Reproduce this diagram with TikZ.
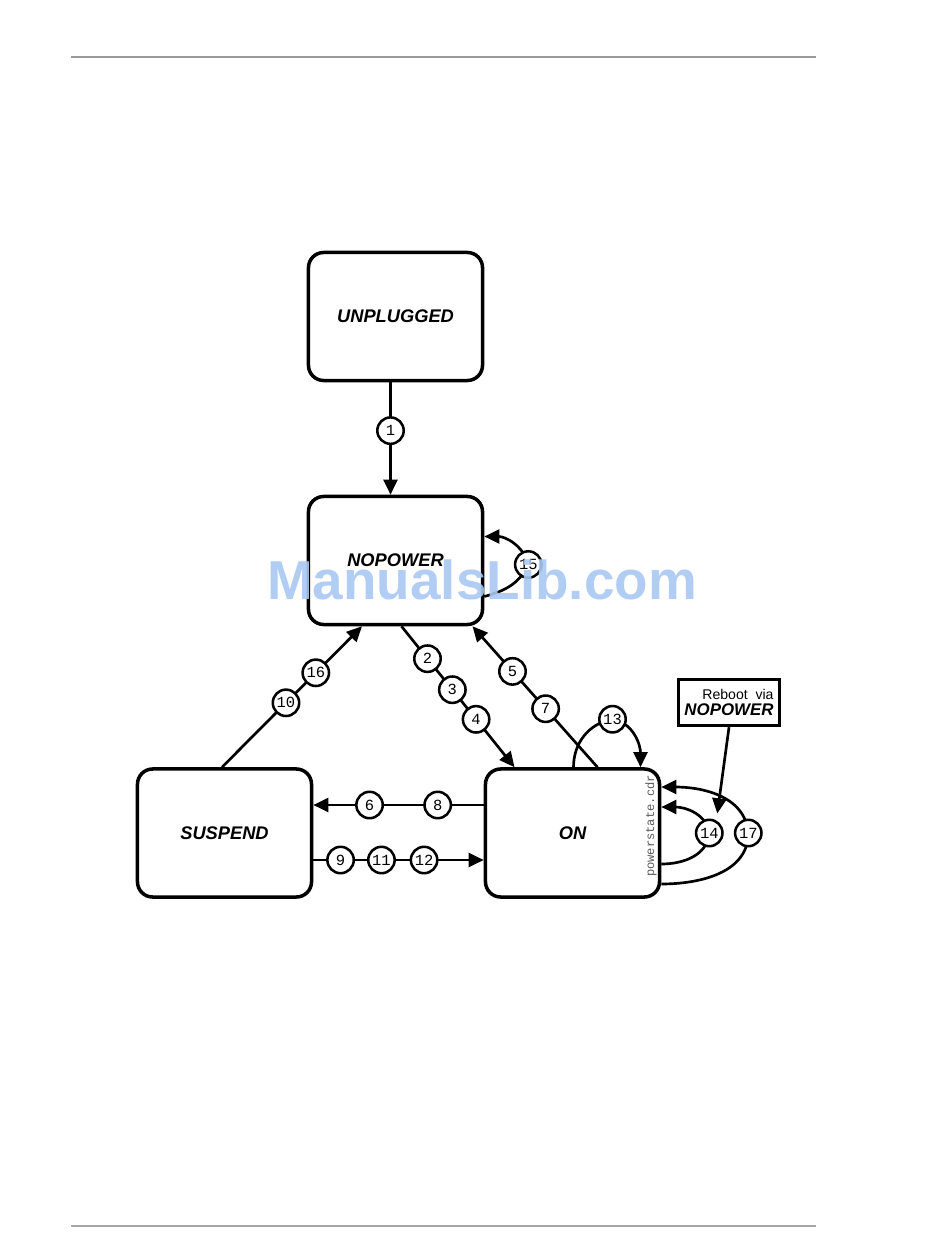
\documentclass[tikz,border=0pt]{standalone}
\usepackage{fontspec}
\setmainfont{Liberation Sans}
\setmonofont{Liberation Mono}
\usepackage{xcolor}
\usepackage{tikz}
\usetikzlibrary{positioning,arrows.meta,calc}
\definecolor{wmark}{RGB}{168,200,242}

\begin{document}
\begin{tikzpicture}[
  x=0.025cm,y=-0.025cm,
  state/.style={draw,line width=2.5pt,rounded corners=0.38cm,minimum width=4.35cm,minimum height=3.2cm,
                font=\fontsize{13}{15}\selectfont\bfseries\itshape},
  num/.style={draw,circle,line width=1.8pt,fill=white,minimum size=0.66cm,inner sep=0pt,
              font=\ttfamily\fontsize{11}{12}\selectfont},
  conn/.style={line width=1.9pt},
  >={Triangle[length=0.38cm,width=0.35cm]}
]
  \useasboundingbox (0,0) rectangle (950,1260);
  \draw[gray!80,line width=0.8pt] (71,57) -- (816,57);
  \draw[gray!70,line width=1.1pt] (71,1226) -- (816,1226);

  \node[state] (unp) at (395.5,316.5) {UNPLUGGED};
  \node[state] (nop) at (395.5,560.5) {NOPOWER};
  \node[state] (sus) at (224.5,833) {SUSPEND};
  \node[state] (on)  at (572.5,833) {ON};
  \node[draw,line width=2.4pt,minimum width=2.53cm,minimum height=1.15cm,align=right,inner sep=2pt] (reboot) at (729,702.5)
    {\fontsize{10}{12}\selectfont Reboot\ \ via\\[-1pt]\fontsize{12}{14}\selectfont\bfseries\itshape NOPOWER};
  \node[rotate=90,text=gray!70!black,font=\ttfamily\fontsize{8.6}{10}\selectfont] (cdr) at (651,826) {powerstate.cdr};

  \draw[conn,->] ($(unp.south)+(-5,0)$) -- node[num,pos=0.43] (n1) {1} ($(nop.north)+(-5,0)$);
  \draw[conn,->] ($(nop.south)+(6,0)$) -- node[num,pos=0.23] (n2) {2} node[num,pos=0.45] (n3) {3}
    node[num,pos=0.66] (n4) {4} ($(on.north)+(-58,0)$);
  \draw[conn,->] ($(on.north)+(25,0)$) -- node[num,pos=0.415] (n7) {7} node[num,pos=0.68] (n5) {5}
    ($(nop.south)+(77,0)$);
  \draw[conn,->] ($(sus.north)+(-2.5,0)$) -- node[num,pos=0.457] (n10) {10} node[num,pos=0.67] (n16) {16}
    ($(nop.south)+(-33.5,0)$);
  \draw[conn,->] ($(on.west)+(0,-28)$) -- node[num,pos=0.27] (n8) {8} node[num,pos=0.67] (n6) {6}
    ($(sus.east)+(0,-28)$);
  \draw[conn,->] ($(sus.east)+(0,27)$) -- node[num,pos=0.16] (n9) {9} node[num,pos=0.40] (n11) {11}
    node[num,pos=0.65] (n12) {12} ($(on.west)+(0,27)$);

  \draw[conn,->] ($(nop.east)+(0,36)$) to[out=15,in=-115] ($(nop.east)+(44,4)$) node[num] (n15) {15}
    to[out=105,in=0] ($(nop.east)+(0,-24)$);
  \draw[conn,->] ($(on.north)+(1,0)$) to[out=90,in=190] ($(on.north)+(40,-48)$) node[num] (n13) {13}
    to[out=-10,in=90] ($(on.north)+(68,0)$);
  \draw[conn,->] ($(on.east)+(0,31)$) to[out=0,in=-95] ($(on.east)+(48,0)$) node[num] (n14) {14}
    to[out=100,in=0] ($(on.east)+(0,-26)$);
  \draw[conn,->] ($(on.east)+(0,51)$) to[out=0,in=-90] ($(on.east)+(87,0)$) node[num] (n17) {17}
    to[out=95,in=0] ($(on.east)+(0,-46)$);
  \draw[conn,->] (reboot.south) -- ($(n14.north)+(8,-5)$);

  \node[text=wmark,opacity=0.9,font=\fontsize{39}{44}\selectfont\bfseries] (wm) at (482,580) {ManualsLib.com};
\end{tikzpicture}
\end{document}
